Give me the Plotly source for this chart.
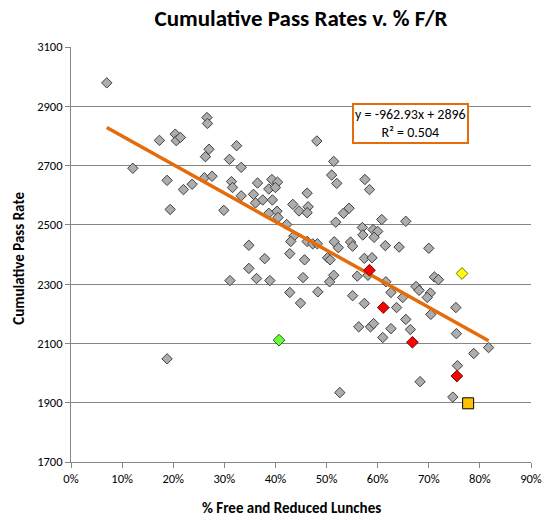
import plotly.graph_objects as go

# ---- data ----
fr_pct = [
    0.070, 0.121, 0.173, 0.188, 0.204, 0.206, 0.214, 0.220, 0.237, 0.266,
    0.267, 0.270, 0.263, 0.261, 0.276, 0.310, 0.314, 0.194, 0.299, 0.188,
    0.311, 0.324, 0.333, 0.481, 0.514, 0.510, 0.520, 0.575, 0.584, 0.316,
    0.365, 0.393, 0.404, 0.387, 0.400, 0.333, 0.357, 0.361, 0.375, 0.394,
    0.462, 0.434, 0.446, 0.464, 0.462, 0.387, 0.403, 0.405, 0.422, 0.436,
    0.430, 0.462, 0.473, 0.482, 0.518, 0.544, 0.533, 0.608, 0.655, 0.570,
    0.571, 0.591, 0.600, 0.593, 0.615, 0.642, 0.700, 0.348, 0.515, 0.523,
    0.547, 0.551, 0.379, 0.428, 0.457, 0.502, 0.507, 0.574, 0.589, 0.348,
    0.363, 0.389, 0.454, 0.514, 0.506, 0.581, 0.560, 0.616, 0.428, 0.483,
    0.449, 0.551, 0.574, 0.563, 0.586, 0.592, 0.610, 0.526, 0.626, 0.711,
    0.719, 0.675, 0.681, 0.703, 0.697, 0.626, 0.649, 0.637, 0.704, 0.753,
    0.655, 0.664, 0.754, 0.817, 0.788, 0.756, 0.683, 0.747,
]
pass_rate = [
    2979, 2691, 2785, 2650, 2806, 2784, 2795, 2619, 2637, 2862,
    2842, 2755, 2730, 2659, 2664, 2721, 2646, 2552, 2549, 2048,
    2312, 2767, 2694, 2783, 2714, 2668, 2640, 2653, 2619, 2626,
    2641, 2653, 2644, 2621, 2626, 2598, 2603, 2574, 2584, 2584,
    2607, 2569, 2547, 2561, 2541, 2539, 2546, 2525, 2501, 2462,
    2444, 2444, 2436, 2436, 2509, 2556, 2539, 2518, 2512, 2491,
    2466, 2484, 2478, 2458, 2430, 2425, 2421, 2431, 2443, 2423,
    2442, 2428, 2386, 2403, 2382, 2389, 2382, 2387, 2389, 2353,
    2319, 2312, 2322, 2330, 2308, 2330, 2327, 2308, 2272, 2274,
    2236, 2261, 2235, 2156, 2156, 2167, 2120, 1934, 2150, 2324,
    2315, 2292, 2279, 2270, 2255, 2272, 2255, 2221, 2198, 2221,
    2181, 2147, 2133, 2086, 2066, 2025, 1971, 1919,
]

red_x = [0.584, 0.611, 0.668, 0.755]
red_y = [2347, 2221, 2104, 1990]
yellow_x = [0.765]
yellow_y = [2336]
green_x = [0.407]
green_y = [2111]
orange_x = [0.777]
orange_y = [1898]

slope = -962.93
intercept = 2896
r_squared = 0.504

x_ticks = [0, 0.1, 0.2, 0.3, 0.4, 0.5, 0.6, 0.7, 0.8, 0.9]
y_ticks = [1700, 1900, 2100, 2300, 2500, 2700, 2900, 3100]

FONT = "Carlito, Calibri, Lato, sans-serif"
GRID = "#868686"

trend_x = [min(fr_pct), max(fr_pct)]
trend_y = [slope * v + intercept for v in trend_x]

fig = go.Figure()
fig.add_trace(go.Scatter(
    x=fr_pct, y=pass_rate, mode="markers",
    marker=dict(symbol="diamond", size=8, color="#ADADAD",
                line=dict(color="#3F3F3F", width=1)),
    showlegend=False, hoverinfo="x+y"))
fig.add_trace(go.Scatter(
    x=trend_x, y=trend_y, mode="lines",
    line=dict(color="#E46C0A", width=3.5), showlegend=False))
fig.add_trace(go.Scatter(
    x=red_x, y=red_y, mode="markers",
    marker=dict(symbol="diamond", size=9, color="#FF0000",
                line=dict(color="#5A1010", width=1)),
    showlegend=False))
fig.add_trace(go.Scatter(
    x=yellow_x, y=yellow_y, mode="markers",
    marker=dict(symbol="diamond", size=9, color="#FFFF00",
                line=dict(color="#6E6E10", width=1)),
    showlegend=False))
fig.add_trace(go.Scatter(
    x=green_x, y=green_y, mode="markers",
    marker=dict(symbol="diamond", size=9, color="#66FF33",
                line=dict(color="#2E5E1E", width=1)),
    showlegend=False))
fig.add_trace(go.Scatter(
    x=orange_x, y=orange_y, mode="markers",
    marker=dict(symbol="square", size=11, color="#FFC000",
                line=dict(color="#000000", width=1)),
    showlegend=False))

eq_text = f"y = {slope}x + {intercept}<br>R² = {r_squared}"

fig.update_layout(
    width=553, height=528,
    margin=dict(l=71, r=22, t=47, b=66),
    paper_bgcolor="white", plot_bgcolor="white",
    font=dict(family=FONT, size=12.5, color="#000000"),
    title=dict(text="<b>Cumulative Pass Rates v. % F/R</b>",
               x=0.5, xref="paper", xanchor="center",
               y=1 - 18 / 528, yref="container", yanchor="middle",
               font=dict(family=FONT, size=23, color="#000000")),
    xaxis=dict(range=[0, 0.9], tickvals=x_ticks, tickformat=".0%",
               showgrid=False, zeroline=False,
               showline=True, linecolor=GRID, linewidth=1,
               ticks="outside", ticklen=5, tickcolor=GRID,
               tickfont=dict(size=12.5)),
    yaxis=dict(range=[1700, 3100], tickvals=y_ticks,
               showgrid=True, gridcolor=GRID, gridwidth=1, zeroline=False,
               showline=True, linecolor=GRID, linewidth=1,
               ticks="outside", ticklen=5, tickcolor=GRID,
               tickfont=dict(size=12.5)),
    annotations=[
        dict(text=eq_text, x=0.664, y=2841, xref="x", yref="y",
             showarrow=False, align="center",
             font=dict(family=FONT, size=14, color="#000000"),
             bgcolor="white", bordercolor="#E46C0A", borderwidth=2,
             borderpad=1, xanchor="center", yanchor="middle"),
        dict(text="<b>% Free and Reduced Lunches</b>",
             x=0.479, y=0, xref="paper", yref="paper",
             yanchor="top", yshift=-35,
             showarrow=False, font=dict(family=FONT, size=15)),
        dict(text="<b>Cumulative Pass Rate</b>", textangle=-90,
             x=0, y=0.49, xref="paper", yref="paper",
             xanchor="right", xshift=-41,
             showarrow=False, font=dict(family=FONT, size=15)),
    ],
)

fig.write_html("out.html")
